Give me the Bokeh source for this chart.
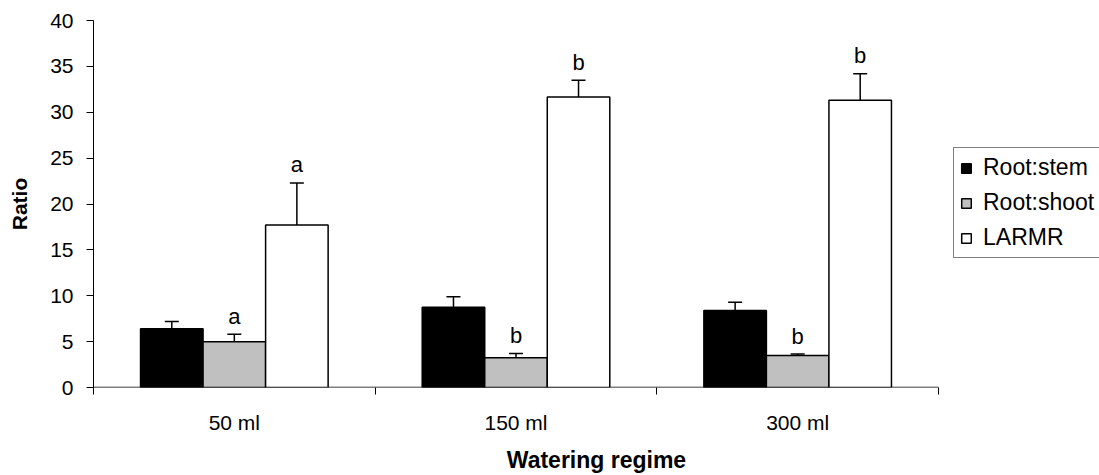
from bokeh.plotting import figure
from bokeh.models import ColumnDataSource, FixedTicker, Whisker, Legend, LegendItem, TeeHead, Range1d
from bokeh.embed import file_html
from bokeh.resources import INLINE
from bokeh.core.properties import value

# ---- data ----
regimes = ["50 ml", "150 ml", "300 ml"]
series = ["Root:stem", "Root:shoot", "LARMR"]
root_stem = [6.4, 8.75, 8.4]
root_stem_err = [0.8, 1.15, 0.9]
root_shoot = [5.0, 3.25, 3.5]
root_shoot_err = [0.8, 0.45, 0.15]
larmr = [17.7, 31.65, 31.3]
larmr_err = [4.6, 1.85, 2.9]
root_shoot_sig = ["a", "b", "b"]
larmr_sig = ["a", "b", "b"]

FONT = "Liberation Sans"
colors = ["#000000", "#c0c0c0", "#ffffff"]
bar_w = 0.222

W, H = 1099, 475
LEFT, TOP, BOTTOM = 93, 20, 88
PLOT_RIGHT = 938  # where the category axis ends
n = len(regimes)
x_end = n * (W - LEFT) / (PLOT_RIGHT - LEFT)  # frame reaches the page edge so the legend is not clipped

p = figure(width=W, height=H, output_backend="svg", toolbar_location=None,
           x_range=Range1d(0, x_end), y_range=Range1d(0, 40),
           min_border_left=LEFT, min_border_right=0, min_border_top=TOP, min_border_bottom=BOTTOM)
p.outline_line_color = None
p.xgrid.visible = False
p.ygrid.visible = False
p.background_fill_color = "white"
p.border_fill_color = "white"

# axes
xa = p.xaxis[0]
xa.ticker = FixedTicker(ticks=[i + 0.5 for i in range(n)], minor_ticks=list(range(n + 1)))
xa.major_label_overrides = {i + 0.5: r for i, r in enumerate(regimes)}
xa.axis_line_color = None
xa.major_tick_out = 0
xa.major_tick_in = 0
xa.minor_tick_out = 7
xa.minor_tick_in = 0
xa.major_label_standoff = 16
xa.axis_label = "Watering regime"
xa.axis_label_standoff = 10
xa.axis_label_text_font_size = "23px"

ya = p.yaxis[0]
ya.ticker = FixedTicker(ticks=list(range(0, 41, 5)), minor_ticks=[])
ya.axis_line_color = "black"
ya.major_tick_out = 7
ya.major_tick_in = 0
ya.major_label_standoff = 13
ya.axis_label = "Ratio"
ya.axis_label_standoff = 16
ya.axis_label_text_font_size = "21px"

for ax in (xa, ya):
    ax.axis_line_width = 1
    ax.major_tick_line_color = "black"
    ax.minor_tick_line_color = "black"
    ax.major_label_text_font = FONT
    ax.major_label_text_font_size = "21px"
    ax.major_label_text_color = "black"
    ax.axis_label_text_font = FONT
    ax.axis_label_text_font_style = "bold"
    ax.axis_label_text_color = "black"

# x axis line only across the categories
p.segment(x0=[0], y0=[0], x1=[n], y1=[0], line_color="black", line_width=1.5)

# bars
all_vals = [root_stem, root_shoot, larmr]
all_errs = [root_stem_err, root_shoot_err, larmr_err]
renderers = []
for k, (vals, errs) in enumerate(zip(all_vals, all_errs)):
    xs = [i + 0.5 + (k - 1) * bar_w for i in range(n)]
    src = ColumnDataSource(dict(x=xs, top=vals, upper=[v + e for v, e in zip(vals, errs)]))
    r = p.vbar(x="x", top="top", width=bar_w, source=src, fill_color=colors[k],
               line_color="black", line_width=1.5)
    renderers.append(r)
    w = Whisker(source=src, base="x", lower="top", upper="upper", dimension="height",
                line_color="black", line_width=1.5, level="overlay",
                upper_head=TeeHead(size=14, line_width=1.5, line_color="black"),
                lower_head=None)
    p.add_layout(w)
    sig = root_shoot_sig if k == 1 else (larmr_sig if k == 2 else None)
    if sig:
        src.data["sig"] = sig
        p.text(x="x", y="upper", text="sig", source=src, text_align="center",
               text_baseline="alphabetic", y_offset=-18,
               text_font=value(FONT), text_font_size="22px", text_color="black")

legend = Legend(items=[LegendItem(label=s, renderers=[r]) for s, r in zip(series, renderers)],
                location=(PLOT_RIGHT - LEFT + 15, 129))
legend.label_text_font = FONT
legend.label_text_font_size = "23px"
legend.label_text_color = "black"
legend.glyph_width = 12
legend.glyph_height = 12
legend.label_standoff = 11
legend.spacing = 8
legend.padding = 6
legend.margin = 0
legend.border_line_color = "black"
legend.border_line_width = 1
legend.background_fill_color = "white"
legend.background_fill_alpha = 1
p.add_layout(legend)

open("out.html", "w").write(file_html(p, INLINE))
